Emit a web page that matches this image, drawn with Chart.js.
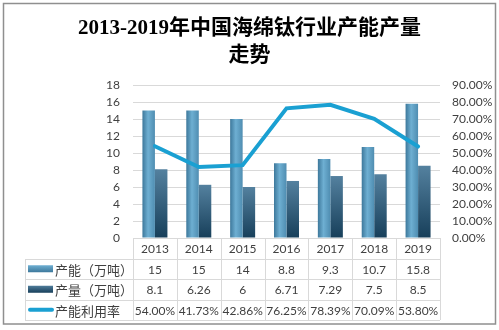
<!DOCTYPE html>
<html lang="zh-CN">
<head>
<meta charset="utf-8">
<title>2013-2019年中国海绵钛行业产能产量走势</title>
<script src="https://cdn.jsdelivr.net/npm/chart.js@4/dist/chart.umd.min.js"></script>
<style>
    html, body { margin: 0; padding: 0; background: #fff; }
    #chart { display: block; }
</style>
</head>
<body>
<canvas id="chart" width="499" height="330"></canvas>
<script>
// 数据
const years = ['2013', '2014', '2015', '2016', '2017', '2018', '2019'];
const capacity = [15, 15, 14, 8.8, 9.3, 10.7, 15.8];          // 产能（万吨）
const output = [8.1, 6.26, 6, 6.71, 7.29, 7.5, 8.5];            // 产量（万吨）
const utilization = [54.00, 41.73, 42.86, 76.25, 78.39, 70.09, 53.80]; // 产能利用率 %

const seriesNames = ['产能（万吨）', '产量（万吨）', '产能利用率'];
const leftTicks = { min: 0, max: 18, step: 2 };
const rightTicks = { min: 0, max: 90, step: 10 };

const textColor = '#404040';
const gridColor = '#d9d9d9';
const lineColor = '#1aa0d2';
const numFont = '"Lato", "Noto Sans CJK SC", sans-serif';
const CAT_PCT = 0.57;

// 柱子的横向位置（左边柱或右边柱）
function barSpan(chart, index, side) {
    const xs = chart.scales.x;
    const colW = (xs.right - xs.left) / years.length;
    const w = colW * CAT_PCT / 2;
    const cx = xs.getPixelForValue(index);
    return side === 0 ? [cx - w, cx] : [cx, cx + w];
}

// 产能柱：左右渐变
function capacityFill(ctx) {
    const chart = ctx.chart;
    if (!chart.chartArea || !chart.scales.x) return '#5d9ec3';
    const [x0, x1] = barSpan(chart, ctx.dataIndex, 0);
    const g = chart.ctx.createLinearGradient(x0, 0, x1, 0);
    g.addColorStop(0, '#3d789b');
    g.addColorStop(0.45, '#6eafd2');
    g.addColorStop(1, '#4f8db1');
    return g;
}

// 产量柱：上下渐变
function outputFill(ctx) {
    const chart = ctx.chart;
    if (!chart.chartArea || !chart.scales.y) return '#2f5f7e';
    const ys = chart.scales.y;
    const top = ys.getPixelForValue(output[ctx.dataIndex]);
    const g = chart.ctx.createLinearGradient(0, top, 0, ys.bottom);
    g.addColorStop(0, '#54819f');
    g.addColorStop(1, '#173f5a');
    return g;
}

// 底部数据表 + 外边框
const tablePlugin = {
    id: 'dataTable',
    afterDraw(chart) {
        const ctx = chart.ctx;
        const area = chart.chartArea;
        const xs = chart.scales.x;
        const colW = (xs.right - xs.left) / years.length;
        const tableLeft = 25;
        const rowH = 20.5;
        const top = area.bottom;
        const bottom = top + rowH * 4;

        ctx.save();
        ctx.strokeStyle = gridColor;
        ctx.lineWidth = 1;
        ctx.beginPath();
        // 横线
        ctx.moveTo(area.left, top + 0.5);
        ctx.lineTo(area.right, top + 0.5);
        for (let r = 1; r <= 4; r++) {
            const y = Math.round(top + rowH * r) + 0.5;
            ctx.moveTo(tableLeft, y);
            ctx.lineTo(area.right, y);
        }
        // 竖线
        ctx.moveTo(tableLeft + 0.5, Math.round(top + rowH));
        ctx.lineTo(tableLeft + 0.5, bottom);
        for (let c = 0; c <= years.length; c++) {
            const x = Math.round(xs.left + colW * c) + 0.5;
            ctx.moveTo(x, top);
            ctx.lineTo(x, bottom);
        }
        ctx.stroke();

        // 文字
        ctx.fillStyle = textColor;
        ctx.textAlign = 'center';
        ctx.textBaseline = 'middle';
        ctx.font = '12px ' + numFont;
        const rows = [
            years,
            capacity.map(v => String(v)),
            output.map(v => String(v)),
            utilization.map(v => v.toFixed(2) + '%')
        ];
        rows.forEach((row, r) => {
            const cy = top + rowH * r + rowH / 2 + 1;
            row.forEach((txt, i) => {
                ctx.fillText(txt, xs.getPixelForValue(i), cy);
            });
        });

        // 图例
        ctx.textAlign = 'left';
        ctx.font = '13px "Noto Sans CJK SC", sans-serif';
        seriesNames.forEach((name, i) => {
            const cy = top + rowH * (i + 1) + rowH / 2;
            if (i === 0) {
                const g = ctx.createLinearGradient(0, cy - 3.5, 0, cy + 3.5);
                g.addColorStop(0, '#6eafd2');
                g.addColorStop(1, '#3d789b');
                ctx.fillStyle = g;
                ctx.fillRect(28, cy - 3.5, 25, 7);
            } else if (i === 1) {
                const g = ctx.createLinearGradient(0, cy - 3.5, 0, cy + 3.5);
                g.addColorStop(0, '#4f7c9a');
                g.addColorStop(1, '#173f5a');
                ctx.fillStyle = g;
                ctx.fillRect(28, cy - 3.5, 25, 7);
            } else {
                ctx.strokeStyle = lineColor;
                ctx.lineWidth = 4;
                ctx.lineCap = 'round';
                ctx.beginPath();
                ctx.moveTo(30, cy);
                ctx.lineTo(52, cy);
                ctx.stroke();
            }
            ctx.fillStyle = textColor;
            ctx.fillText(name, 55, cy + 1);
        });

        // 外边框
        ctx.strokeStyle = '#8f8f8f';
        ctx.lineWidth = 1.5;
        ctx.strokeRect(3.5, 3.5, 492, 320.5);
        ctx.restore();
    }
};

new Chart(document.getElementById('chart').getContext('2d'), {
    data: {
        labels: years,
        datasets: [
            {
                type: 'line',
                label: seriesNames[2],
                data: utilization,
                yAxisID: 'y1',
                borderColor: lineColor,
                backgroundColor: lineColor,
                borderWidth: 4,
                pointRadius: 0,
                tension: 0,
                borderCapStyle: 'round',
                order: 0
            },
            {
                type: 'bar',
                label: seriesNames[0],
                data: capacity,
                yAxisID: 'y',
                backgroundColor: capacityFill,
                categoryPercentage: CAT_PCT,
                barPercentage: 1,
                order: 1
            },
            {
                type: 'bar',
                label: seriesNames[1],
                data: output,
                yAxisID: 'y',
                backgroundColor: outputFill,
                categoryPercentage: CAT_PCT,
                barPercentage: 1,
                order: 1
            }
        ]
    },
    options: {
        responsive: false,
        devicePixelRatio: 1,
        animation: false,
        layout: { padding: { top: 0, bottom: 92, left: 0, right: 0 } },
        plugins: {
            legend: { display: false },
            tooltip: { enabled: false },
            title: {
                display: true,
                text: ['2013-2019年中国海绵钛行业产能产量', '走势'],
                color: '#000',
                font: { family: '"Liberation Serif", "Noto Sans CJK SC", serif', size: 21, weight: 'bold', lineHeight: 1.3 },
                padding: { top: 15, bottom: 15.4 }
            }
        },
        scales: {
            x: {
                display: false,
                offset: true,
                grid: { display: false }
            },
            y: {
                position: 'left',
                min: leftTicks.min,
                max: leftTicks.max,
                afterFit: s => { s.width = 133; },
                border: { display: false },
                grid: { color: gridColor, drawTicks: false },
                ticks: {
                    stepSize: leftTicks.step,
                    autoSkip: false,
                    padding: 13,
                    color: textColor,
                    font: { family: numFont, size: 12 }
                }
            },
            y1: {
                position: 'right',
                min: rightTicks.min,
                max: rightTicks.max,
                afterFit: s => { s.width = 59; },
                border: { display: false },
                grid: { drawOnChartArea: false, drawTicks: false },
                ticks: {
                    stepSize: rightTicks.step,
                    autoSkip: false,
                    padding: 12,
                    color: textColor,
                    font: { family: numFont, size: 12 },
                    callback: v => v.toFixed(2) + '%'
                }
            }
        }
    },
    plugins: [tablePlugin]
});
</script>
</body>
</html>
